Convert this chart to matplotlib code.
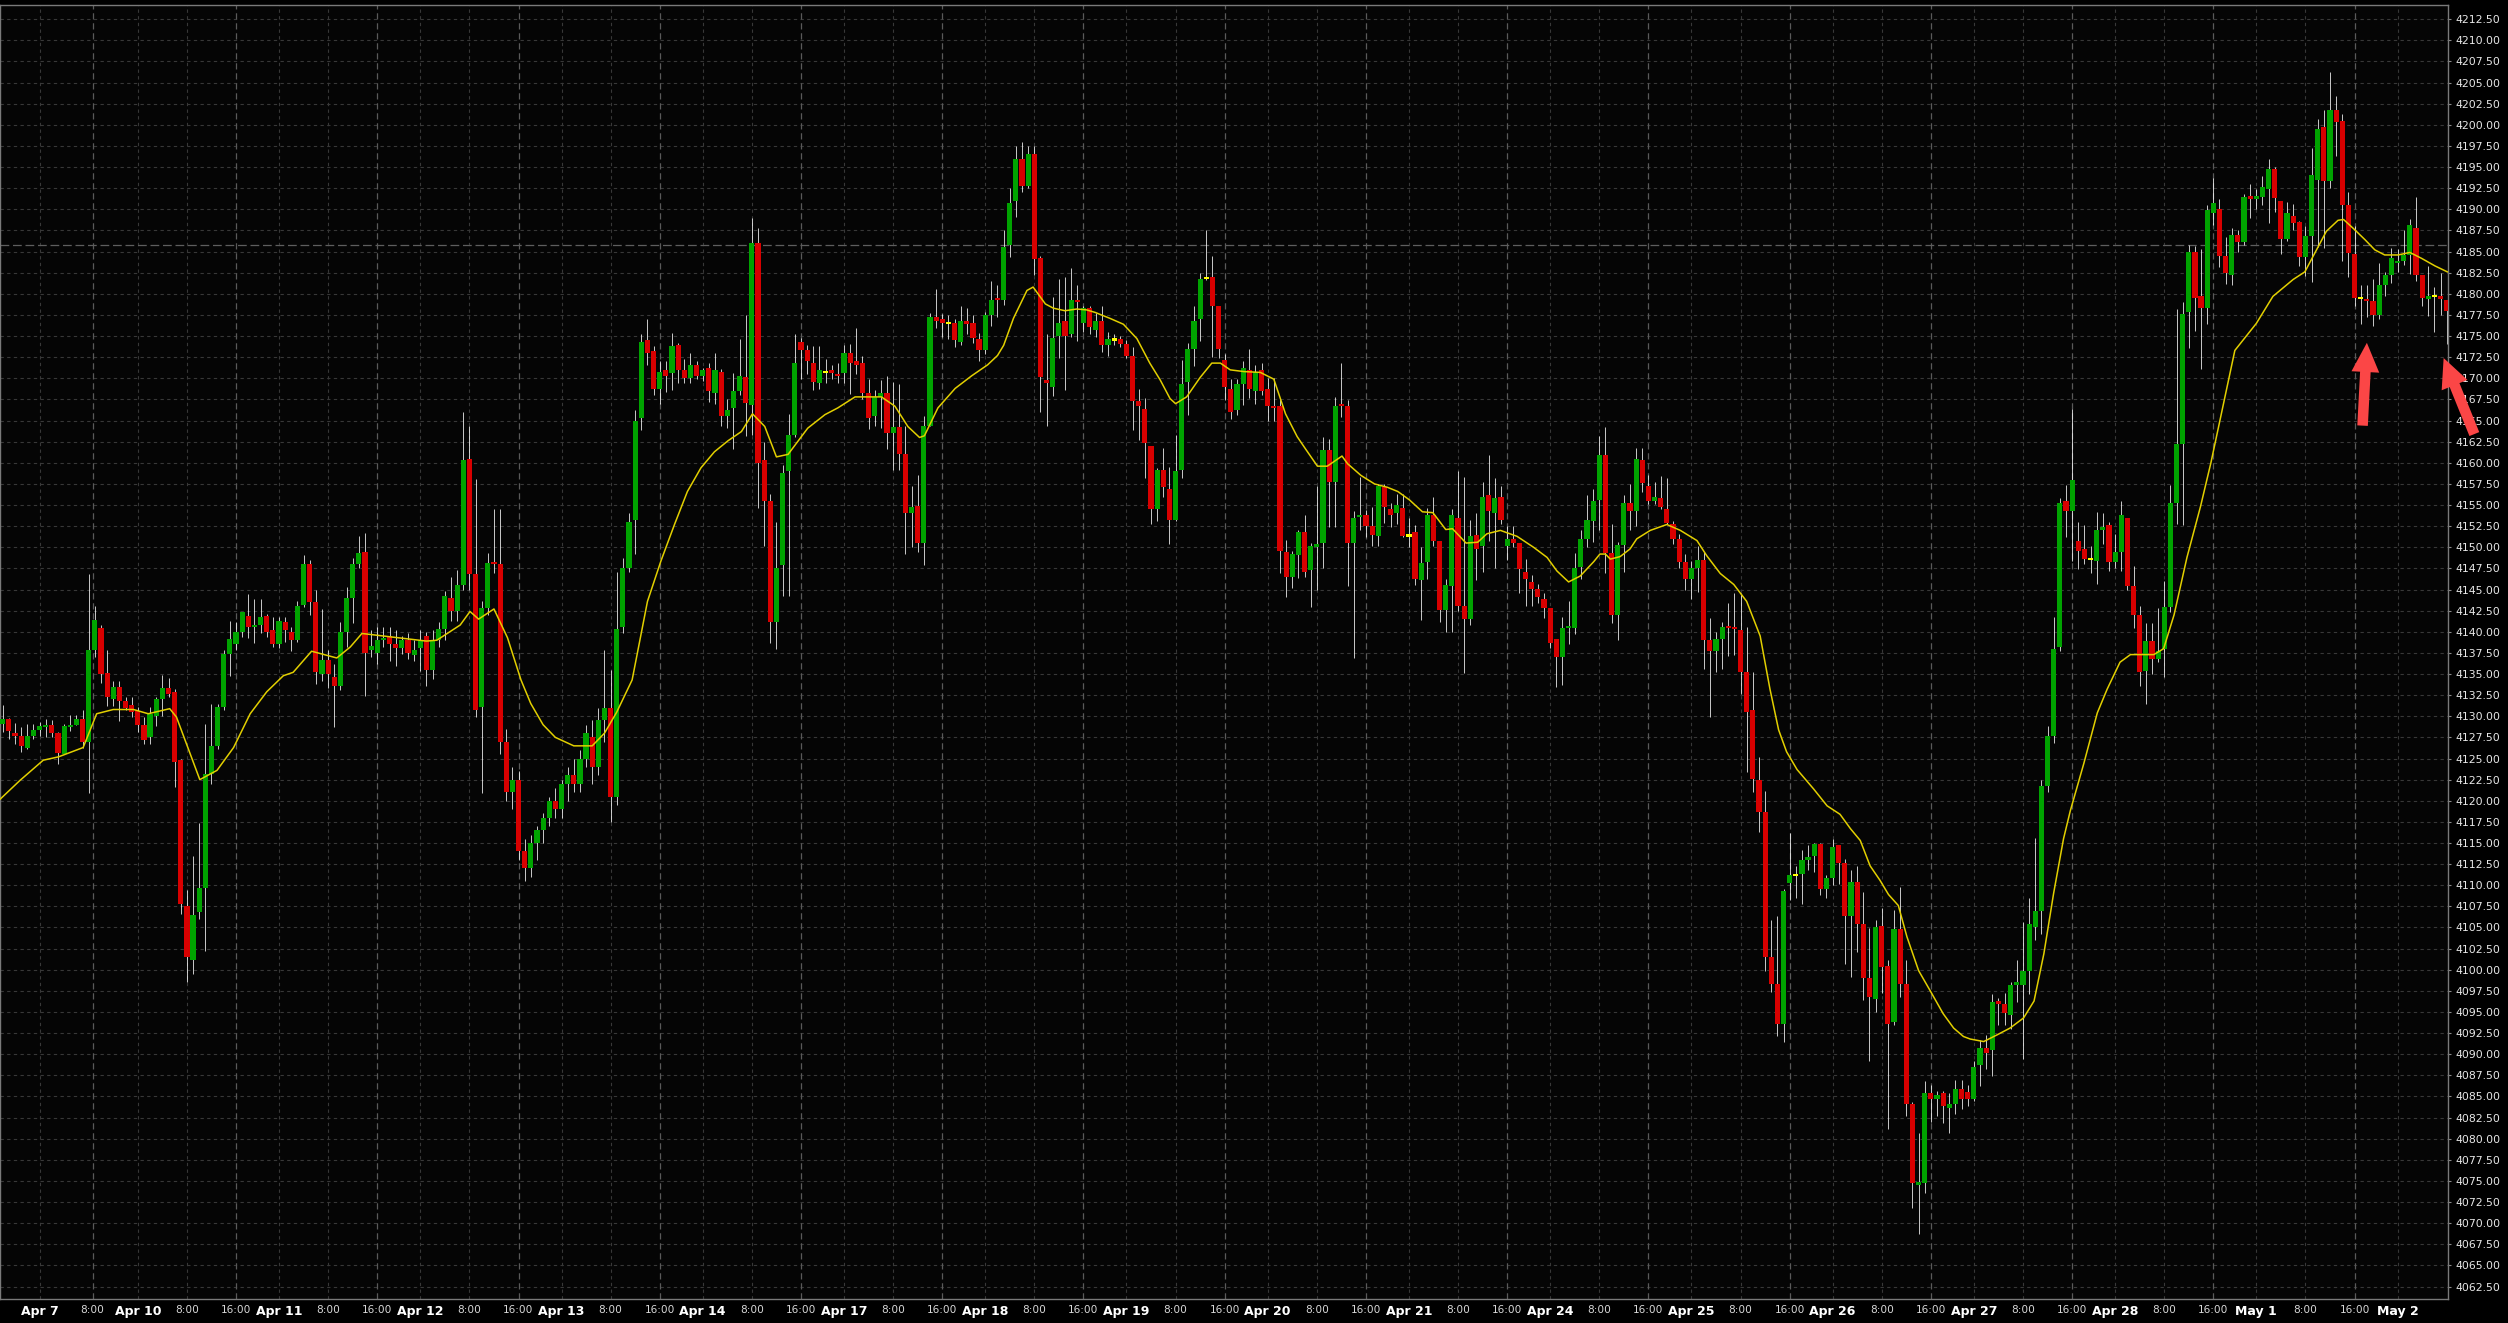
import numpy as np
import matplotlib
matplotlib.use("Agg")
import matplotlib.pyplot as plt

# hourly candles, Apr 6 18:00 -> May 2 08:00 (one value per bar)
opens = [
    4129.1, 4129.7, 4128.0, 4127.7, 4126.2, 4127.7, 4128.4, 4128.8, 4129.0, 4128.0,
    4125.5, 4128.8, 4129.0, 4129.7, 4127.0, 4137.8, 4140.5, 4135.1, 4132.0, 4133.5,
    4131.8, 4131.3, 4130.6, 4129.0, 4127.5, 4130.0, 4132.0, 4133.3, 4132.9, 4124.8,
    4107.5, 4101.2, 4106.8, 4109.7, 4123.2, 4126.5, 4131.1, 4137.4, 4138.5, 4140.0,
    4141.9, 4140.6, 4140.8, 4141.9, 4140.2, 4138.5, 4141.2, 4140.0, 4139.0, 4143.2,
    4148.0, 4143.5, 4135.0, 4136.7, 4134.7, 4133.6, 4140.0, 4144.0, 4148.0, 4149.5,
    4137.8, 4137.5, 4139.0, 4139.5, 4138.5, 4138.1, 4139.0, 4137.2, 4138.1, 4139.5,
    4135.5, 4139.0, 4140.3, 4144.0, 4142.5, 4145.5, 4160.5, 4146.8, 4131.1, 4142.8,
    4148.2, 4148.0, 4127.0, 4121.0, 4122.5, 4114.0, 4112.0, 4115.0, 4116.5, 4118.0,
    4120.0, 4119.0, 4122.0, 4123.0, 4122.0, 4125.0, 4127.5, 4124.0, 4129.5, 4131.0,
    4120.5, 4140.6, 4147.5, 4153.2, 4165.3, 4174.5, 4173.2, 4168.75, 4171.0, 4170.6,
    4174.0, 4171.0, 4170.0, 4171.55, 4170.3, 4171.2, 4168.3, 4170.7, 4165.5, 4166.5,
    4168.5, 4170.2, 4166.8, 4185.97, 4160.3, 4155.5, 4141.1, 4147.9, 4159.0, 4163.3,
    4174.35, 4173.3, 4171.85, 4169.4, 4170.7, 4171.0, 4170.5, 4170.6, 4173.0, 4172.1,
    4171.8, 4168.3, 4165.5, 4167.8, 4168.3, 4163.5, 4164.2, 4161.1, 4154.1, 4154.9,
    4150.5, 4164.4, 4177.2, 4177.0, 4176.5, 4176.6, 4174.35, 4176.8, 4176.5, 4174.6,
    4173.3, 4177.5, 4179.5, 4179.3, 4185.8, 4191.0, 4196.0, 4192.8, 4196.5, 4184.2,
    4169.8, 4169.0, 4175.0, 4176.8, 4175.2, 4179.3, 4176.5, 4178.3, 4175.7, 4176.8,
    4173.9, 4174.6, 4174.7, 4174.05, 4172.7, 4167.3, 4166.4, 4161.96, 4154.5, 4159.2,
    4156.95, 4153.2, 4159.2, 4169.6, 4173.5, 4177.0, 4181.9, 4181.96, 4178.6, 4172.2,
    4168.7, 4166.2, 4169.3, 4171.0, 4168.5, 4171.0, 4168.7, 4166.7, 4166.7, 4149.5,
    4146.5, 4149.1, 4151.8, 4147.3, 4150.05, 4150.5, 4161.5, 4157.7, 4167.0, 4166.7,
    4150.5, 4153.6, 4153.8, 4152.5, 4151.3, 4157.1, 4154.5, 4154.1, 4154.7, 4151.4,
    4151.8, 4146.1, 4148.3, 4153.8, 4150.8, 4142.6, 4145.4, 4153.5, 4143.0, 4141.5,
    4151.5, 4150.1, 4156.2, 4154.0, 4156.0, 4150.1, 4151.0, 4150.5, 4147.1, 4145.9,
    4145.1, 4143.9, 4142.8, 4139.1, 4137.0, 4140.5, 4140.5, 4147.7, 4151.0, 4153.1,
    4155.6, 4160.9, 4149.3, 4142.0, 4150.3, 4155.2, 4154.3, 4160.3, 4157.2, 4155.5,
    4155.8, 4154.5, 4152.7, 4151.0, 4148.3, 4146.3, 4147.5, 4148.5, 4139.0, 4137.7,
    4139.2, 4140.7, 4140.6, 4140.2, 4135.2, 4130.7, 4122.5, 4118.7, 4101.5, 4098.3,
    4093.6, 4110.3, 4111.2, 4111.3, 4113.0, 4113.5, 4114.9, 4109.5, 4110.8, 4114.8,
    4112.6, 4106.4, 4110.4, 4105.4, 4099.0, 4096.5, 4105.2, 4100.5, 4093.8, 4104.8,
    4098.3, 4084.1, 4074.6, 4074.8, 4085.4, 4084.7, 4085.4, 4083.6, 4084.1, 4085.9,
    4085.5, 4084.7, 4088.7, 4090.7, 4090.5, 4096.3, 4095.9, 4094.7, 4098.2, 4098.2,
    4099.9, 4105.1, 4107.0, 4121.7, 4127.7, 4138.2, 4155.45, 4154.25, 4150.8, 4149.8,
    4148.6, 4148.4, 4152.0, 4152.65, 4148.25, 4149.4, 4153.45, 4145.4, 4142.0, 4135.4,
    4138.95, 4136.8, 4138.0, 4142.95, 4155.2, 4162.2, 4177.8, 4185.0, 4179.8, 4178.3,
    4189.6, 4190.05, 4184.5, 4182.2, 4187.0, 4186.1, 4191.5, 4191.3, 4191.5, 4192.4,
    4194.8, 4191.0, 4186.5, 4189.2, 4188.55, 4184.3, 4186.8, 4193.5, 4199.8, 4193.3,
    4201.8, 4200.5, 4190.5, 4184.7, 4179.5, 4179.4, 4179.1, 4177.5, 4181.0, 4182.2,
    4183.6, 4183.9, 4184.6, 4187.8, 4182.2, 4179.35, 4179.7, 4179.8, 4179.3,
]
highs = [
    4131.3, 4129.8, 4129.2, 4128.7, 4129.1, 4129.1, 4129.3, 4129.7, 4129.5, 4128.1,
    4129.1, 4130.2, 4130.2, 4130.7, 4146.8, 4143.0, 4140.8, 4137.8, 4134.2, 4134.2,
    4132.3, 4132.3, 4131.1, 4129.9, 4131.1, 4132.3, 4134.9, 4134.5, 4133.2, 4125.0,
    4109.4, 4113.5, 4117.4, 4129.1, 4131.5, 4131.5, 4137.8, 4141.3, 4141.2, 4142.4,
    4144.5, 4143.9, 4143.9, 4142.1, 4141.7, 4141.7, 4141.7, 4140.6, 4143.7, 4149.1,
    4148.5, 4144.9, 4142.7, 4137.8, 4136.2, 4141.2, 4145.3, 4148.7, 4151.3, 4151.7,
    4140.2, 4140.6, 4140.6, 4140.6, 4140.2, 4139.5, 4139.8, 4139.0, 4140.2, 4140.0,
    4140.2, 4141.2, 4144.8, 4146.5, 4147.3, 4166.0, 4164.3, 4158.1, 4143.7, 4149.3,
    4154.5, 4154.5, 4128.5, 4124.0, 4123.5, 4115.5, 4116.0, 4117.0, 4118.5, 4120.5,
    4121.5, 4122.5, 4124.0, 4125.0, 4126.0, 4129.0, 4129.5, 4131.0, 4137.8, 4135.5,
    4147.1, 4148.7, 4154.1, 4166.25, 4175.3, 4177.0, 4173.8, 4172.1, 4172.1, 4175.4,
    4174.2, 4172.3, 4173.0, 4172.1, 4171.2, 4171.85, 4173.0, 4171.1, 4167.5, 4170.6,
    4174.6, 4177.5, 4189.0, 4187.8, 4162.5, 4156.3, 4153.0, 4159.7, 4165.8, 4175.2,
    4174.8, 4173.9, 4173.8, 4173.8, 4172.3, 4171.6, 4171.8, 4174.0, 4174.1, 4176.0,
    4172.6, 4169.9, 4168.6, 4169.8, 4170.3, 4169.6, 4169.3, 4164.3, 4157.3, 4158.6,
    4165.5, 4177.75, 4180.6, 4177.66, 4177.45, 4177.0, 4178.5, 4178.3, 4177.45, 4175.4,
    4177.8, 4181.5, 4181.0, 4187.6, 4192.5, 4197.5, 4198.0, 4197.5, 4197.5, 4184.5,
    4175.2, 4179.6, 4181.8, 4182.0, 4183.0, 4181.0, 4178.5, 4178.5, 4177.7, 4178.5,
    4175.5, 4175.2, 4175.0, 4174.5, 4173.7, 4168.7, 4167.7, 4162.0, 4159.4, 4161.7,
    4159.5, 4163.3, 4172.2, 4174.2, 4178.6, 4182.5, 4187.6, 4184.5, 4178.6, 4172.9,
    4169.9, 4169.9, 4172.0, 4173.5, 4171.6, 4171.8, 4170.0, 4170.0, 4167.7, 4150.9,
    4149.6, 4152.0, 4153.8, 4150.5, 4157.2, 4163.1, 4162.8, 4167.8, 4171.8, 4167.4,
    4154.3, 4158.3, 4154.4, 4154.8, 4157.5, 4157.5, 4155.25, 4156.35, 4156.35, 4153.5,
    4152.6, 4150.0, 4154.6, 4156.0, 4150.8, 4146.3, 4154.5, 4159.0, 4158.3, 4153.2,
    4154.0, 4157.7, 4160.9, 4158.2, 4157.2, 4152.5, 4152.5, 4150.5, 4148.6, 4146.7,
    4145.7, 4144.6, 4142.8, 4139.2, 4141.7, 4143.7, 4149.3, 4152.1, 4156.2, 4156.9,
    4163.2, 4164.2, 4152.7, 4150.6, 4156.2, 4157.5, 4161.7, 4161.7, 4158.5, 4157.7,
    4158.4, 4158.2, 4153.1, 4151.6, 4149.2, 4148.4, 4150.1, 4149.4, 4141.6, 4140.0,
    4141.2, 4143.4, 4144.6, 4144.6, 4140.6, 4135.2, 4125.2, 4121.2, 4105.9, 4106.4,
    4109.6, 4116.2, 4112.3, 4114.2, 4114.8, 4115.0, 4115.0, 4111.2, 4115.5, 4114.8,
    4113.1, 4111.8, 4112.3, 4109.2, 4104.9, 4105.9, 4107.3, 4101.2, 4107.1, 4109.8,
    4101.2, 4084.4, 4080.7, 4086.8, 4086.4, 4085.7, 4085.7, 4085.4, 4086.9, 4086.9,
    4086.3, 4089.2, 4091.7, 4092.3, 4097.1, 4096.7, 4097.3, 4098.6, 4101.1, 4105.7,
    4108.5, 4115.6, 4122.4, 4128.8, 4141.8, 4155.8, 4157.4, 4166.4, 4153.0, 4152.6,
    4150.2, 4154.2, 4154.0, 4153.0, 4151.6, 4155.5, 4153.5, 4147.8, 4143.0, 4141.0,
    4141.0, 4142.8, 4146.0, 4157.4, 4178.2, 4179.0, 4185.8, 4185.7, 4185.3, 4190.5,
    4193.7, 4191.2, 4186.7, 4187.8, 4187.6, 4191.8, 4193.0, 4192.4, 4194.0, 4196.0,
    4195.0, 4191.0, 4190.9, 4190.6, 4188.6, 4188.0, 4197.3, 4200.7, 4201.7, 4206.3,
    4203.4, 4201.3, 4192.1, 4188.0, 4181.0, 4181.0, 4181.8, 4183.7, 4182.6, 4185.4,
    4185.3, 4187.6, 4188.9, 4191.5, 4182.2, 4183.3, 4180.8, 4182.5, 4179.3,
]
lows = [
    4128.1, 4127.3, 4126.7, 4125.8, 4126.1, 4127.3, 4127.7, 4127.5, 4127.5, 4124.4,
    4125.5, 4128.3, 4129.0, 4126.3, 4120.9, 4137.0, 4133.9, 4131.2, 4131.2, 4129.4,
    4130.7, 4129.9, 4128.1, 4126.7, 4126.7, 4128.9, 4130.0, 4132.3, 4121.6, 4106.6,
    4098.6, 4099.5, 4106.0, 4102.2, 4122.0, 4126.1, 4130.7, 4134.8, 4137.8, 4139.4,
    4139.3, 4138.7, 4139.9, 4139.4, 4138.2, 4138.1, 4138.8, 4137.7, 4138.8, 4142.9,
    4142.0, 4133.8, 4134.2, 4133.4, 4128.7, 4133.1, 4138.2, 4141.0, 4147.5, 4132.4,
    4137.0, 4136.2, 4138.2, 4136.6, 4136.0, 4137.4, 4136.8, 4136.6, 4135.4, 4133.6,
    4134.4, 4138.2, 4139.0, 4141.3, 4141.3, 4145.0, 4144.9, 4129.9, 4120.9, 4142.0,
    4147.0, 4125.5, 4120.0, 4119.0, 4113.0, 4110.5, 4111.0, 4113.0, 4115.0, 4117.0,
    4118.0, 4118.0, 4120.0, 4121.0, 4121.0, 4124.0, 4122.0, 4123.0, 4127.0, 4117.5,
    4119.5, 4139.8, 4147.1, 4149.2, 4163.9, 4171.6, 4168.0, 4167.0, 4168.4, 4168.6,
    4169.5, 4169.5, 4169.5, 4169.9, 4169.7, 4167.2, 4167.0, 4164.3, 4164.1, 4161.6,
    4168.0, 4163.2, 4163.3, 4154.7, 4150.2, 4138.7, 4138.0, 4144.2, 4144.2, 4163.0,
    4169.9, 4170.5, 4168.6, 4168.7, 4169.5, 4169.9, 4169.5, 4169.4, 4168.2, 4170.5,
    4167.5, 4164.0, 4164.3, 4164.1, 4161.6, 4159.2, 4159.1, 4149.2, 4150.0, 4149.45,
    4147.95, 4164.3, 4176.0, 4174.9, 4174.6, 4173.7, 4174.0, 4175.3, 4174.2, 4172.0,
    4172.9, 4176.2, 4177.2, 4178.7, 4184.4, 4189.1, 4192.0, 4192.5, 4182.2, 4166.0,
    4164.4, 4167.9, 4172.4, 4168.6, 4174.9, 4174.4, 4175.5, 4175.3, 4174.9, 4173.1,
    4172.7, 4173.9, 4173.7, 4172.4, 4163.9, 4162.7, 4158.2, 4152.7, 4153.1, 4156.0,
    4150.4, 4153.1, 4158.2, 4165.6, 4171.5, 4174.4, 4181.6, 4172.5, 4172.4, 4167.4,
    4165.2, 4165.6, 4166.8, 4167.7, 4167.0, 4168.0, 4165.0, 4165.0, 4146.95, 4144.1,
    4145.2, 4146.4, 4146.5, 4142.9, 4145.0, 4147.5, 4152.4, 4152.4, 4165.4, 4145.4,
    4136.9, 4152.1, 4151.2, 4150.2, 4150.2, 4152.9, 4152.4, 4152.8, 4151.2, 4150.0,
    4145.5, 4141.4, 4146.2, 4150.2, 4141.1, 4139.97, 4140.0, 4142.5, 4135.1, 4140.8,
    4146.1, 4147.1, 4150.8, 4147.5, 4152.8, 4148.5, 4150.0, 4144.6, 4143.1, 4143.1,
    4143.4, 4141.6, 4138.1, 4133.5, 4133.7, 4138.5, 4139.7, 4146.3, 4150.0, 4150.6,
    4152.0, 4146.9, 4141.0, 4139.0, 4147.1, 4152.0, 4152.5, 4156.5, 4155.1, 4155.1,
    4154.5, 4152.8, 4150.4, 4147.6, 4144.9, 4143.9, 4144.7, 4135.6, 4129.9, 4135.2,
    4135.6, 4137.1, 4137.2, 4132.6, 4123.4, 4121.0, 4116.3, 4099.9, 4097.4, 4092.1,
    4091.5, 4108.3, 4108.5, 4107.8, 4111.8, 4111.6, 4108.8, 4108.5, 4110.0, 4110.2,
    4100.7, 4099.2, 4102.1, 4096.4, 4089.2, 4095.0, 4097.2, 4081.2, 4093.5, 4096.8,
    4082.7, 4071.8, 4068.7, 4073.6, 4082.0, 4082.7, 4081.9, 4080.7, 4082.9, 4083.5,
    4083.9, 4084.5, 4086.2, 4088.3, 4087.4, 4093.5, 4093.5, 4093.0, 4096.2, 4089.4,
    4097.1, 4103.5, 4104.2, 4121.0, 4126.8, 4137.7, 4151.2, 4148.4, 4147.4, 4148.0,
    4147.0, 4145.6, 4150.4, 4147.2, 4147.6, 4147.2, 4145.0, 4140.5, 4133.6, 4131.4,
    4135.0, 4136.4, 4134.6, 4142.4, 4152.8, 4152.6, 4173.6, 4175.6, 4171.1, 4176.45,
    4188.2, 4183.2, 4181.2, 4181.0, 4185.0, 4185.8, 4189.0, 4190.0, 4190.5, 4188.4,
    4189.7, 4184.7, 4186.2, 4187.5, 4183.3, 4182.1, 4181.4, 4185.6, 4185.4, 4192.5,
    4196.3, 4183.9, 4182.0, 4178.5, 4176.4, 4177.3, 4176.2, 4177.0, 4179.7, 4181.3,
    4182.6, 4183.4, 4182.4, 4181.5, 4178.5, 4177.4, 4175.5, 4177.5, 4174.1,
]
closes = [
    4129.7, 4128.2, 4127.7, 4126.5, 4127.7, 4128.4, 4128.8, 4129.0, 4128.0, 4125.7,
    4128.8, 4129.0, 4129.7, 4127.0, 4137.8, 4141.4, 4135.0, 4132.3, 4133.5, 4131.8,
    4131.0, 4130.5, 4129.0, 4127.2, 4130.3, 4132.0, 4133.3, 4132.6, 4124.6, 4107.8,
    4101.5, 4106.5, 4109.7, 4123.2, 4126.5, 4131.1, 4137.4, 4139.2, 4140.0, 4142.3,
    4140.6, 4140.8, 4141.7, 4140.0, 4138.5, 4141.3, 4140.2, 4139.0, 4143.0, 4148.0,
    4143.5, 4135.2, 4136.7, 4135.0, 4133.6, 4140.0, 4144.0, 4148.0, 4149.3, 4137.5,
    4138.3, 4139.0, 4139.3, 4138.6, 4138.1, 4139.0, 4137.5, 4137.8, 4138.9, 4135.5,
    4139.0, 4140.3, 4144.2, 4142.5, 4145.5, 4160.3, 4146.8, 4130.7, 4142.8, 4148.2,
    4148.0, 4127.0, 4121.0, 4122.5, 4114.0, 4112.0, 4115.0, 4116.5, 4118.0, 4120.0,
    4119.0, 4122.0, 4123.0, 4122.0, 4125.0, 4128.0, 4124.0, 4129.5, 4131.0, 4120.5,
    4140.3, 4147.5, 4153.0, 4165.0, 4174.3, 4173.05, 4168.75, 4170.8, 4170.3, 4173.8,
    4171.0, 4170.0, 4171.55, 4170.3, 4171.0, 4168.5, 4171.0, 4165.5, 4166.25, 4168.5,
    4170.3, 4167.1, 4185.97, 4160.0, 4155.5, 4141.1, 4147.5, 4158.8, 4163.3, 4171.8,
    4173.3, 4172.1, 4169.6, 4171.0, 4170.7, 4170.6, 4170.3, 4173.0, 4171.85, 4171.6,
    4168.3, 4165.3, 4167.8, 4168.3, 4163.5, 4164.2, 4161.1, 4154.1, 4154.75, 4150.5,
    4164.4, 4177.2, 4176.8, 4176.6, 4176.5, 4174.5, 4176.8, 4176.4, 4174.8, 4173.3,
    4177.5, 4179.3, 4179.3, 4185.6, 4190.8, 4196.0, 4192.8, 4196.5, 4184.1, 4170.1,
    4169.4, 4174.8, 4176.5, 4175.0, 4179.3, 4179.1, 4178.3, 4176.1, 4176.8, 4173.9,
    4174.7, 4174.6, 4174.05, 4172.7, 4167.3, 4166.7, 4162.3, 4154.5, 4159.2, 4157.1,
    4153.2, 4159.0, 4169.3, 4173.5, 4176.8, 4181.8, 4181.9, 4178.6, 4173.5, 4169.0,
    4166.0, 4169.3, 4171.2, 4168.7, 4170.7, 4168.5, 4166.7, 4166.5, 4149.6, 4146.5,
    4149.2, 4151.8, 4147.1, 4150.2, 4150.4, 4161.5, 4157.7, 4166.7, 4166.7, 4150.5,
    4153.5, 4153.8, 4152.5, 4151.5, 4157.2, 4154.8, 4153.8, 4155.0, 4151.3, 4151.4,
    4146.3, 4148.2, 4153.8, 4150.8, 4142.6, 4145.5, 4153.8, 4143.1, 4141.5, 4151.3,
    4149.8, 4156.0, 4154.3, 4155.8, 4153.2, 4151.0, 4150.5, 4147.4, 4146.3, 4145.1,
    4144.1, 4142.8, 4138.7, 4137.0, 4140.5, 4140.7, 4147.6, 4151.0, 4153.2, 4155.5,
    4160.9, 4149.3, 4142.0, 4150.3, 4155.2, 4154.3, 4160.5, 4157.6, 4155.5, 4156.0,
    4154.8, 4152.9, 4151.0, 4148.3, 4146.3, 4147.5, 4148.5, 4139.0, 4137.7, 4139.2,
    4140.6, 4140.4, 4140.3, 4135.2, 4130.5, 4122.6, 4118.7, 4101.5, 4098.3, 4093.6,
    4109.3, 4111.2, 4111.2, 4113.0, 4113.4, 4114.9, 4109.5, 4110.8, 4114.5, 4112.6,
    4106.4, 4110.4, 4105.4, 4099.0, 4096.8, 4105.0, 4100.3, 4093.6, 4104.8, 4098.3,
    4084.1, 4074.8, 4074.8, 4085.4, 4084.7, 4085.2, 4083.9, 4084.1, 4085.9, 4084.7,
    4084.7, 4088.5, 4090.7, 4090.2, 4096.2, 4095.9, 4094.9, 4098.2, 4098.6, 4099.9,
    4105.4, 4107.0, 4121.7, 4127.7, 4138.0, 4155.2, 4154.25, 4158.0, 4149.6, 4148.6,
    4148.6, 4152.0, 4152.4, 4148.25, 4149.45, 4153.8, 4145.4, 4142.0, 4135.2, 4138.95,
    4136.8, 4137.7, 4142.9, 4155.2, 4162.2, 4177.65, 4185.0, 4179.5, 4178.3, 4189.9,
    4190.8, 4184.5, 4182.5, 4187.0, 4186.1, 4191.5, 4191.3, 4191.5, 4192.6, 4194.8,
    4191.3, 4186.5, 4189.6, 4188.4, 4184.3, 4186.8, 4194.1, 4199.5, 4193.3, 4201.8,
    4200.3, 4190.5, 4184.8, 4179.5, 4179.5, 4179.2, 4177.5, 4181.0, 4182.2, 4184.2,
    4183.9, 4184.6, 4188.1, 4182.2, 4179.5, 4179.8, 4179.7, 4179.35, 4178.0,
]

# yellow moving average at these bar positions
ma_idx = [
    -0.4, 2.8, 6.6, 9.1, 13.1, 15.3, 18.0, 21.3, 23.7, 27.2, 28.3, 32.1, 34.9, 37.6,
    40.3, 43.0, 45.7, 47.3, 50.3, 54.4, 56.6, 58.5, 62.0, 69.0, 70.7, 74.5, 76.1,
    77.5, 80.0, 82.2, 84.4, 86, 88, 90, 93, 96, 98, 100, 102.5, 105.0, 107.2, 109.4,
    111.5, 113.7, 115.9, 118.1, 120.3, 122.1, 124.1, 126.0, 127.9, 131.1, 133.9,
    136.0, 138.8, 140.9, 143.1, 145.3, 147.4, 149.3, 150.1, 152.3, 155.1, 157.8,
    160.4, 162.0, 163.0, 164.6, 166.8, 167.8, 169.8, 171.1, 173.0, 174.9, 176.5,
    177.9, 180.3, 182.5, 184.7, 186.8, 188.5, 190.1, 191.0, 192.8, 195.0, 196.9,
    198.3, 199.9, 202.1, 204.8, 207.0, 208.9, 210.8, 212.2, 214.1, 215.7, 218.1,
    219.0, 221.2, 223.4, 225.5, 227.2, 229.1, 231.2, 232.9, 235.0, 236.1, 238.3,
    240.2, 241.7, 243.9, 246.6, 249.3, 251.5, 253.1, 255.0, 256.9, 259.1, 260.1,
    261.0, 261.8, 263.4, 265.0, 266.1, 268.3, 271.0, 273.2, 275.9, 277.5, 279.7,
    281.9, 284.0, 286.2, 287.8, 289.2, 290.5, 292.2, 294.9, 297.1, 299.2, 300.9,
    302.5, 304.1, 305.7, 307.1, 308.7, 310.1, 312.0, 313.9, 316.0, 317.7, 319.3,
    320.4, 322.6, 324.8, 326.9, 329.1, 330.8, 332.4, 334.0, 335.6, 336.7, 338.9,
    341.1, 342.7, 344.8, 346.5, 348.4, 350.3, 351.9, 353.6, 355.7, 357.9, 359.6,
    363.5, 367.0, 369.7, 373.0, 374.9, 376.8, 378.4, 380.3, 381.2, 383.0, 384.7,
    386.3, 387.9, 390.1, 392.0, 393.9, 396.1, 398.1,
]
ma_val = [
    4120.2, 4122.4, 4124.8, 4125.2, 4126.3, 4130.3, 4130.8, 4130.8, 4130.3, 4130.9,
    4129.9, 4122.5, 4123.6, 4126.3, 4130.3, 4132.9, 4134.8, 4135.2, 4137.7, 4136.9,
    4138.2, 4139.8, 4139.5, 4138.9, 4139.0, 4140.8, 4142.4, 4141.5, 4142.7, 4139.3,
    4134.3, 4131.5, 4129.0, 4127.5, 4126.5, 4126.5, 4128.0, 4130.5, 4134.3, 4143.6,
    4148.4, 4152.7, 4156.6, 4159.4, 4161.3, 4162.6, 4163.7, 4165.8, 4164.3, 4160.7,
    4161.0, 4164.1, 4165.7, 4166.5, 4167.8, 4167.8, 4167.8, 4166.7, 4164.3, 4163.0,
    4163.2, 4166.5, 4168.8, 4170.3, 4171.6, 4172.7, 4173.9, 4177.1, 4180.4, 4180.8,
    4178.8, 4178.3, 4178.0, 4178.2, 4178.1, 4177.8, 4177.1, 4176.4, 4174.7, 4171.8,
    4169.8, 4167.6, 4167.0, 4167.8, 4170.1, 4171.8, 4171.8, 4171.0, 4170.8, 4170.7,
    4169.9, 4165.8, 4163.1, 4161.6, 4159.6, 4159.6, 4160.8, 4159.9, 4158.5, 4157.5,
    4157.1, 4156.6, 4155.6, 4154.2, 4154.1, 4152.1, 4152.2, 4150.5, 4150.6, 4151.6,
    4152.0, 4151.3, 4150.0, 4148.8, 4147.2, 4145.9, 4146.6, 4148.3, 4149.2, 4149.2,
    4148.6, 4148.9, 4149.8, 4151.0, 4152.0, 4152.7, 4152.0, 4150.8, 4149.0, 4146.9,
    4145.6, 4143.6, 4139.5, 4133.2, 4128.4, 4125.8, 4123.7, 4121.4, 4119.4, 4118.4,
    4116.7, 4115.3, 4112.3, 4110.6, 4108.9, 4107.6, 4103.9, 4099.9, 4097.5, 4094.8,
    4093.1, 4092.1, 4091.8, 4091.5, 4092.3, 4093.1, 4094.3, 4096.3, 4101.9, 4109.1,
    4115.5, 4118.8, 4124.4, 4130.4, 4133.2, 4136.4, 4137.3, 4137.3, 4137.3, 4138.0,
    4142.0, 4148.8, 4154.8, 4160.0, 4173.3, 4176.5, 4179.7, 4181.7, 4182.6, 4185.2,
    4187.4, 4188.7, 4188.8, 4187.6, 4186.4, 4185.2, 4184.6, 4184.6, 4184.9, 4184.2,
    4183.3, 4182.6,
]

tick_pos = [6, 14.5, 22, 30, 38, 45, 53, 61, 68, 76, 84, 91, 99, 107, 114, 122, 130,
            137, 145, 153, 160, 168, 176, 183, 191, 199, 206, 214, 222, 229, 237, 245,
            252, 260, 268, 275, 283, 291, 298, 306, 314, 321, 329, 337, 344, 352, 360,
            367, 375, 383, 390]
tick_txt = ['Apr 7', '8:00', 'Apr 10', '8:00', '16:00', 'Apr 11', '8:00', '16:00',
            'Apr 12', '8:00', '16:00', 'Apr 13', '8:00', '16:00', 'Apr 14', '8:00', '16:00',
            'Apr 17', '8:00', '16:00', 'Apr 18', '8:00', '16:00', 'Apr 19', '8:00', '16:00',
            'Apr 20', '8:00', '16:00', 'Apr 21', '8:00', '16:00', 'Apr 24', '8:00', '16:00',
            'Apr 25', '8:00', '16:00', 'Apr 26', '8:00', '16:00', 'Apr 27', '8:00', '16:00',
            'Apr 28', '8:00', '16:00', 'May 1', '8:00', '16:00', 'May 2']
good_friday_close = 14.75
last_price_line = 4185.75

# red arrows drawn on the screenshot: (tail bar, tail price) -> (tip bar, tip price)
arrows = [((384.3, 4164.4), (385.0, 4174.2)),
          ((402.5, 4163.4), (397.5, 4172.4))]

GREEN = '#00a300'
RED = '#d80000'
DOJI = '#ffff00'

o = np.array(opens)
h = np.array(highs)
l = np.array(lows)
c = np.array(closes)
x = np.arange(len(c))

fig = plt.figure(figsize=(25.08, 13.23), dpi=100, facecolor='#000000')
ax = fig.add_axes([0, 24 / 1323, 2448.3 / 2508, 1294.3 / 1323])
ax.set_facecolor('#050505')

# grid
yt = np.arange(4062.5, 4212.6, 2.5)
ax.set_yticks(yt)
for y in yt:
    ax.axhline(y, color='#383838', lw=0.8, ls=(0, (3, 3)), zorder=0)
for p, t in zip(tick_pos, tick_txt):
    if t == '16:00':
        ax.axvline(p, color='#5a5a5a', lw=0.9, ls=(0, (5, 3)), zorder=0)
    elif p == 14.5:
        ax.axvline(good_friday_close, color='#5a5a5a', lw=0.9, ls=(0, (5, 3)), zorder=0)
    else:
        ax.axvline(p, color='#383838', lw=0.8, ls=(0, (3, 3)), zorder=0)
ax.axhline(last_price_line, color='#5e5e5e', lw=0.9, ls=(0, (7, 3)), zorder=1)

# candles
col = np.where(c > o, GREEN, np.where(c < o, RED, DOJI))
body = np.abs(c - o)
bh = np.maximum(body, 0.25)
bb = np.where(body < 0.25, (o + c) / 2 - 0.125, np.minimum(o, c))
ax.vlines(x, l, h, color='white', lw=0.55, zorder=2)
ax.bar(x, bh, bottom=bb, width=0.84, color=col, linewidth=0, zorder=3)

ax.plot(ma_idx, ma_val, color='#e2cf00', lw=1.1, zorder=4)

for (tx, ty), (hx, hy) in arrows:
    an = ax.annotate('', xy=(hx, hy), xytext=(tx, ty), annotation_clip=False,
                     arrowprops=dict(arrowstyle='simple,head_length=1.05,head_width=1.0,tail_width=0.38',
                                     color='#fb4646', lw=0, shrinkA=0, shrinkB=0,
                                     mutation_scale=20, clip_on=False), zorder=6)
    an.arrow_patch.set_clip_on(False)

ax.set_xlim(-0.44, 398.26)
ax.set_ylim(4061.03, 4214.22)

ax.yaxis.tick_right()
ax.set_yticklabels(['%.2f' % v for v in yt])
ax.tick_params(axis='y', colors='#8a8a8a', labelcolor='#e8e8e8', labelsize=7.8,
               length=2, width=0.8, pad=3)
ax.set_xticks(tick_pos)
ax.set_xticklabels(tick_txt)
ax.tick_params(axis='x', length=0, pad=4)
for lab in ax.get_xticklabels():
    if lab.get_text()[0].isalpha():
        lab.set_family(['Liberation Sans Narrow', 'DejaVu Sans'])
        lab.set_fontweight('bold')
        lab.set_fontsize(9)
        lab.set_color('white')
    else:
        lab.set_fontsize(7.6)
        lab.set_color('#d8d8d8')

for s in ax.spines.values():
    s.set_color('#7a7a7a')
    s.set_linewidth(1)

fig.savefig('out.png', dpi=100, facecolor=fig.get_facecolor())
